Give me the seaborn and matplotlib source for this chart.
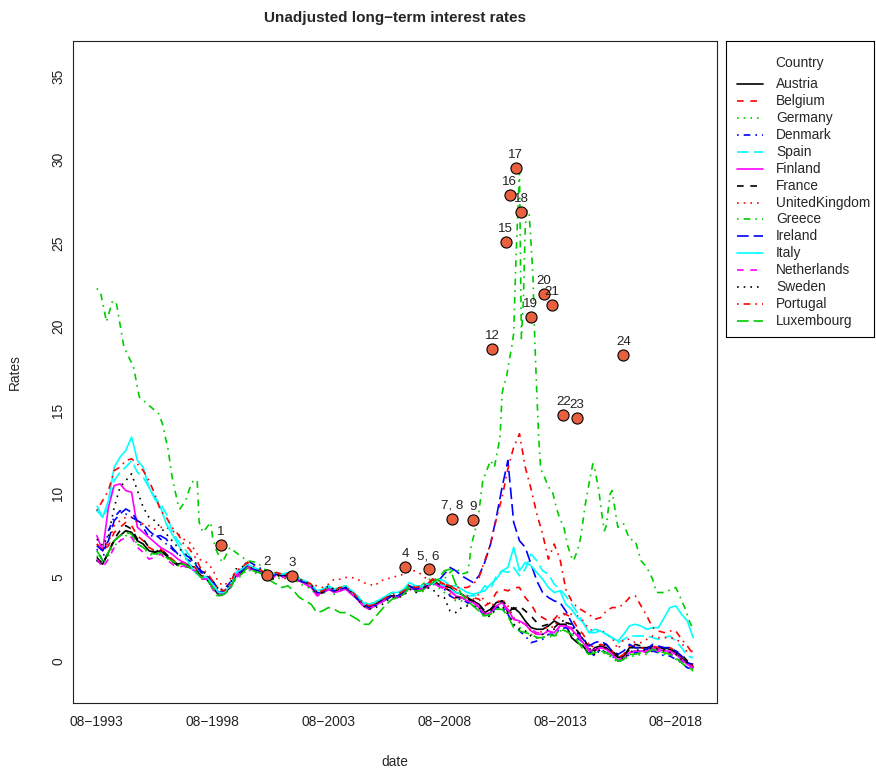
import numpy as np
import pandas as pd
import matplotlib
matplotlib.use("Agg")
import matplotlib.pyplot as plt
import seaborn as sns

sns.set_style("white")
plt.rcParams['font.family'] = ['Liberation Sans', 'DejaVu Sans']

# ---------------- data ----------------
countries = ["Austria", "Belgium", "Germany", "Denmark", "Spain", "Finland",
             "France", "UnitedKingdom", "Greece", "Ireland", "Italy",
             "Netherlands", "Sweden", "Portugal", "Luxembourg"]

# months since 08-1993, quarterly sampling
months_q = list(range(0, 310, 3))

austria = [
    6.0, 5.8, 6.5, 7.2, 7.5, 7.8, 7.7, 7.2,
    7.0, 6.6, 6.5, 6.6, 6.3, 6.0, 5.8, 5.9,
    5.7, 5.6, 5.1, 5.0, 4.4, 4.0, 4.1, 4.4,
    5.1, 5.3, 5.7, 5.5, 5.4, 5.2, 5.0, 5.2,
    5.1, 5.2, 5.2, 4.8, 4.7, 4.5, 4.0, 4.1,
    4.4, 4.2, 4.3, 4.4, 4.1, 3.8, 3.4, 3.2,
    3.4, 3.6, 3.8, 3.9, 3.9, 4.1, 4.5, 4.3,
    4.3, 4.5, 4.9, 4.6, 4.5, 4.4, 4.1, 4.0,
    3.8, 3.6, 3.4, 2.9, 3.1, 3.5, 3.6, 2.9,
    3.2, 2.9, 2.4, 2.0, 1.9, 1.9, 2.1, 2.4,
    2.2, 2.2, 1.4, 1.1, 0.9, 0.4, 0.8, 0.9,
    0.8, 0.5, 0.2, 0.3, 0.8, 0.8, 0.8, 0.8,
    0.8, 0.8, 0.8, 0.7, 0.5, 0.2, -0.1, -0.35]

belgium = [
    7.0, 6.6, 6.9, 7.7, 8.0, 8.3, 8.1, 7.5,
    7.2, 6.8, 6.6, 6.7, 6.4, 6.1, 5.8, 5.9,
    5.7, 5.6, 5.1, 5.0, 4.5, 4.0, 4.1, 4.4,
    5.1, 5.4, 5.7, 5.6, 5.4, 5.3, 5.0, 5.2,
    5.1, 5.2, 5.2, 4.8, 4.7, 4.5, 4.0, 4.1,
    4.3, 4.2, 4.3, 4.4, 4.1, 3.8, 3.4, 3.2,
    3.4, 3.6, 3.8, 3.9, 3.9, 4.1, 4.5, 4.3,
    4.4, 4.6, 4.9, 4.8, 4.6, 4.5, 4.3, 4.0,
    3.8, 3.8, 3.7, 3.3, 3.5, 4.1, 4.3, 4.2,
    4.4, 4.4, 3.8, 3.4, 2.8, 2.6, 2.4, 2.5,
    2.9, 2.8, 2.6, 2.0, 1.6, 1.0, 0.8, 1.0,
    0.9, 0.6, 0.2, 0.4, 0.9, 0.9, 0.8, 0.7,
    0.9, 0.8, 0.8, 0.8, 0.6, 0.3, -0.1, -0.3]

germany = [
    6.3, 5.8, 6.3, 6.9, 7.2, 7.5, 7.5, 7.0,
    6.8, 6.4, 6.3, 6.5, 6.2, 5.9, 5.7, 5.8,
    5.6, 5.5, 5.0, 4.9, 4.3, 3.8, 4.0, 4.3,
    4.9, 5.1, 5.5, 5.3, 5.2, 5.1, 4.8, 5.0,
    4.9, 5.0, 5.0, 4.6, 4.5, 4.3, 3.9, 4.0,
    4.3, 4.0, 4.2, 4.3, 4.0, 3.7, 3.3, 3.1,
    3.3, 3.5, 3.7, 3.8, 3.8, 4.0, 4.4, 4.1,
    4.1, 4.3, 4.6, 4.4, 4.1, 3.9, 3.6, 3.6,
    3.4, 3.3, 3.0, 2.6, 2.7, 3.1, 3.3, 2.9,
    2.2, 2.0, 1.8, 1.6, 1.4, 1.4, 1.5, 1.4,
    1.8, 1.8, 1.6, 1.3, 0.9, 0.5, 0.6, 0.6,
    0.4, 0.2, -0.1, 0.1, 0.3, 0.3, 0.4, 0.4,
    0.6, 0.5, 0.4, 0.4, 0.1, -0.1, -0.4, -0.6]

denmark = [
    6.7, 6.0, 7.8, 8.6, 9.0, 8.8, 8.6, 8.4,
    8.0, 7.4, 7.6, 7.3, 7.0, 6.7, 6.4, 6.2,
    6.0, 5.8, 5.4, 5.2, 4.8, 4.3, 4.3, 4.7,
    5.3, 5.5, 6.0, 5.8, 5.6, 5.4, 5.1, 5.3,
    5.2, 5.2, 5.3, 4.9, 4.7, 4.5, 4.1, 4.2,
    4.4, 4.2, 4.3, 4.4, 4.1, 3.8, 3.4, 3.2,
    3.3, 3.6, 3.8, 3.9, 3.9, 4.1, 4.5, 4.2,
    4.3, 4.4, 4.7, 4.5, 4.3, 3.9, 3.7, 3.7,
    3.5, 3.4, 3.1, 2.7, 2.8, 3.2, 3.2, 2.8,
    2.2, 1.8, 1.5, 1.1, 1.2, 1.3, 1.6, 1.6,
    1.9, 2.0, 1.8, 1.4, 1.1, 0.6, 0.3, 0.7,
    0.5, 0.3, 0.0, 0.1, 0.4, 0.5, 0.6, 0.5,
    0.6, 0.5, 0.3, 0.3, 0.1, -0.1, -0.4, -0.5]

spain = [
    9.3, 8.6, 9.2, 10.8, 11.3, 11.6, 12.0, 11.3,
    11.0, 10.4, 9.8, 9.4, 8.8, 7.8, 7.2, 6.8,
    6.3, 5.8, 5.2, 5.0, 4.6, 4.1, 4.1, 4.5,
    5.2, 5.4, 5.7, 5.5, 5.4, 5.2, 5.0, 5.2,
    5.1, 5.2, 5.2, 4.8, 4.7, 4.5, 4.1, 4.2,
    4.4, 4.2, 4.3, 4.4, 4.1, 3.8, 3.4, 3.2,
    3.3, 3.5, 3.7, 3.9, 3.9, 4.1, 4.5, 4.3,
    4.4, 4.5, 4.8, 4.6, 4.5, 4.3, 4.1, 4.0,
    3.9, 3.9, 4.0, 4.5, 4.3, 5.1, 5.4, 5.3,
    5.6, 5.1, 5.5, 6.4, 6.0, 5.4, 5.2, 4.6,
    4.3, 3.9, 3.4, 2.9, 2.3, 1.7, 1.7, 1.8,
    1.6, 1.4, 1.1, 1.3, 1.5, 1.5, 1.5, 1.5,
    1.4, 1.3, 1.4, 1.5, 1.2, 0.8, 0.3, 0.2]

finland = [
    7.5, 6.6, 9.2, 10.5, 10.6, 10.2, 10.1, 8.0,
    7.7, 7.4, 7.1, 6.8, 6.6, 6.4, 6.1, 5.9,
    5.6, 5.4, 5.0, 4.9, 4.4, 4.0, 4.1, 4.4,
    5.1, 5.4, 5.7, 5.5, 5.4, 5.2, 5.0, 5.2,
    5.1, 5.1, 5.2, 4.8, 4.6, 4.4, 4.0, 4.1,
    4.3, 4.1, 4.2, 4.3, 4.0, 3.7, 3.3, 3.1,
    3.3, 3.5, 3.7, 3.9, 3.8, 4.0, 4.4, 4.3,
    4.3, 4.4, 4.7, 4.5, 4.4, 4.2, 3.9, 3.8,
    3.6, 3.5, 3.2, 2.8, 2.9, 3.3, 3.5, 3.1,
    2.5, 2.4, 2.2, 1.8, 1.6, 1.6, 1.8, 1.7,
    2.1, 2.1, 1.9, 1.5, 1.1, 0.6, 0.7, 0.8,
    0.7, 0.4, 0.0, 0.2, 0.5, 0.6, 0.6, 0.6,
    0.8, 0.7, 0.6, 0.6, 0.4, 0.1, -0.2, -0.4]

france = [
    6.2, 5.8, 6.5, 7.3, 7.8, 8.1, 7.9, 7.3,
    7.3, 6.8, 6.5, 6.7, 6.4, 6.0, 5.7, 5.7,
    5.6, 5.5, 5.0, 4.9, 4.4, 4.0, 4.1, 4.4,
    5.1, 5.3, 5.6, 5.5, 5.4, 5.2, 5.0, 5.2,
    5.1, 5.2, 5.2, 4.8, 4.7, 4.5, 4.0, 4.1,
    4.3, 4.2, 4.3, 4.4, 4.1, 3.8, 3.4, 3.2,
    3.4, 3.6, 3.8, 3.9, 3.9, 4.1, 4.5, 4.3,
    4.3, 4.5, 4.8, 4.6, 4.4, 4.2, 3.8, 3.8,
    3.7, 3.6, 3.4, 3.0, 3.0, 3.4, 3.6, 3.3,
    3.1, 3.3, 3.0, 2.7, 2.3, 2.1, 2.2, 2.0,
    2.3, 2.3, 2.2, 1.8, 1.4, 0.8, 0.6, 0.9,
    1.0, 0.6, 0.3, 0.3, 0.7, 1.0, 0.9, 0.8,
    0.9, 0.9, 0.7, 0.7, 0.6, 0.4, 0.0, -0.2]

united_kingdom = [
    7.0, 6.7, 7.1, 8.1, 8.4, 8.6, 8.6, 8.3,
    8.2, 8.1, 7.9, 8.0, 8.0, 7.8, 7.6, 7.3,
    7.1, 6.6, 6.0, 5.9, 5.5, 4.7, 4.5, 4.9,
    5.3, 5.5, 5.8, 5.4, 5.3, 5.2, 5.0, 5.2,
    5.0, 4.9, 5.0, 4.8, 4.8, 4.6, 4.5, 4.4,
    4.6, 4.9, 4.9, 5.0, 5.0, 4.9, 4.7, 4.6,
    4.5, 4.8, 4.9, 5.0, 5.1, 5.2, 5.4, 5.4,
    5.2, 4.9, 4.6, 4.7, 4.6, 4.0, 3.7, 3.8,
    3.9, 3.7, 4.0, 3.6, 3.3, 3.5, 3.7, 3.3,
    2.6, 2.3, 2.2, 1.8, 1.6, 1.8, 2.1, 2.0,
    2.7, 2.8, 2.8, 2.7, 2.4, 1.9, 1.8, 1.9,
    1.6, 1.4, 0.7, 1.3, 1.3, 1.1, 1.1, 1.3,
    1.5, 1.4, 1.4, 1.4, 1.3, 1.1, 0.5, 0.6]

ireland = [
    6.9, 6.6, 7.2, 8.4, 8.8, 9.1, 8.9, 8.4,
    8.2, 7.8, 7.5, 7.5, 7.3, 6.8, 6.4, 6.4,
    6.2, 5.8, 5.3, 5.1, 4.7, 4.1, 4.2, 4.5,
    5.2, 5.4, 5.7, 5.5, 5.4, 5.2, 5.0, 5.2,
    5.1, 5.1, 5.2, 4.8, 4.7, 4.5, 4.1, 4.1,
    4.3, 4.2, 4.3, 4.4, 4.1, 3.7, 3.4, 3.2,
    3.3, 3.5, 3.7, 3.9, 3.9, 4.1, 4.5, 4.3,
    4.4, 4.6, 4.6, 4.8, 5.2, 5.6, 5.4, 5.1,
    4.9, 4.7, 5.1, 5.9, 7.0, 8.6, 10.4, 12.0,
    8.3, 7.2, 6.8, 5.8, 4.8, 4.1, 3.8, 3.6,
    3.5, 3.0, 2.3, 1.7, 1.3, 0.9, 1.1, 1.2,
    1.0, 0.6, 0.4, 0.6, 1.0, 0.8, 0.8, 0.7,
    1.0, 0.9, 0.8, 0.8, 0.6, 0.3, -0.1, -0.2]

italy = [
    9.0, 8.6, 9.6, 11.6, 12.2, 12.6, 13.4, 12.0,
    11.6, 10.4, 9.7, 9.2, 8.2, 7.6, 7.0, 6.4,
    5.8, 5.3, 5.0, 5.0, 4.6, 4.1, 4.1, 4.5,
    5.3, 5.5, 5.8, 5.6, 5.5, 5.3, 5.1, 5.3,
    5.2, 5.3, 5.3, 4.9, 4.8, 4.6, 4.2, 4.3,
    4.5, 4.3, 4.4, 4.5, 4.2, 3.9, 3.5, 3.4,
    3.5, 3.7, 3.9, 4.1, 4.1, 4.3, 4.7, 4.5,
    4.5, 4.6, 4.6, 4.9, 4.8, 4.5, 4.5, 4.3,
    4.1, 4.0, 4.1, 4.2, 4.6, 4.9, 5.4, 5.6,
    6.8, 5.4, 5.9, 5.7, 5.3, 4.9, 4.4, 4.1,
    4.2, 3.4, 3.1, 2.6, 2.3, 1.7, 1.9, 1.8,
    1.6, 1.4, 1.2, 1.6, 2.1, 2.2, 2.1, 1.9,
    2.0, 2.0, 2.6, 3.2, 3.3, 2.8, 2.4, 1.4]

netherlands = [
    6.1, 5.6, 6.1, 6.8, 7.2, 7.4, 7.4, 6.8,
    6.5, 6.1, 6.2, 6.4, 6.1, 5.8, 5.6, 5.7,
    5.5, 5.4, 4.9, 4.9, 4.3, 3.9, 4.0, 4.4,
    5.0, 5.2, 5.6, 5.4, 5.3, 5.2, 4.9, 5.1,
    5.0, 5.1, 5.1, 4.7, 4.6, 4.4, 3.9, 4.0,
    4.3, 4.1, 4.2, 4.3, 4.0, 3.7, 3.3, 3.1,
    3.3, 3.5, 3.7, 3.8, 3.8, 4.0, 4.4, 4.2,
    4.2, 4.4, 4.7, 4.5, 4.3, 4.2, 3.9, 3.8,
    3.6, 3.5, 3.3, 2.8, 2.9, 3.3, 3.4, 3.0,
    2.5, 2.4, 2.2, 1.9, 1.7, 1.7, 1.8, 1.6,
    2.1, 2.1, 2.0, 1.6, 1.2, 0.7, 0.6, 0.8,
    0.7, 0.4, 0.1, 0.2, 0.5, 0.6, 0.6, 0.5,
    0.7, 0.6, 0.5, 0.5, 0.2, 0.0, -0.3, -0.5]

sweden = [
    7.3, 6.9, 7.5, 9.2, 10.4, 10.8, 11.2, 10.2,
    9.2, 8.6, 8.4, 8.0, 7.6, 7.2, 6.8, 6.5,
    6.2, 5.9, 5.4, 5.2, 4.8, 4.3, 4.2, 4.6,
    5.5, 5.6, 5.9, 5.4, 5.3, 5.1, 4.8, 5.1,
    5.1, 5.1, 5.3, 4.9, 4.7, 4.6, 4.1, 4.2,
    4.5, 4.3, 4.4, 4.4, 4.1, 3.7, 3.3, 3.1,
    3.2, 3.3, 3.6, 3.8, 3.8, 3.9, 4.3, 4.1,
    4.2, 4.4, 4.3, 3.9, 3.8, 3.0, 2.9, 3.2,
    3.3, 3.3, 3.2, 2.7, 2.7, 3.2, 3.3, 2.8,
    2.2, 1.9, 1.8, 1.5, 1.4, 1.6, 1.9, 1.9,
    2.4, 2.4, 2.1, 1.7, 1.3, 0.8, 0.4, 0.7,
    0.8, 0.6, 0.4, 0.1, 0.5, 0.7, 0.6, 0.7,
    0.8, 0.7, 0.6, 0.5, 0.4, 0.1, -0.1, -0.2]

portugal = [
    9.0, 9.6, 10.2, 11.4, 11.6, 12.0, 12.1, 11.8,
    11.4, 10.8, 10.0, 9.0, 8.6, 8.0, 7.6, 7.0,
    6.7, 6.2, 5.5, 5.3, 4.8, 4.3, 4.2, 4.6,
    5.4, 5.6, 5.9, 5.7, 5.5, 5.3, 5.1, 5.3,
    5.2, 5.2, 5.3, 4.9, 4.8, 4.6, 4.1, 4.2,
    4.4, 4.2, 4.4, 4.4, 4.2, 3.8, 3.5, 3.3,
    3.4, 3.6, 3.8, 4.0, 4.0, 4.2, 4.6, 4.4,
    4.5, 4.6, 4.9, 4.7, 4.6, 4.5, 4.4, 4.4,
    4.4, 4.6, 5.0, 6.0, 7.0, 8.5, 9.8, 11.5,
    12.8, 13.6, 11.6, 10.3, 8.8, 7.6, 6.1, 7.0,
    6.1, 4.3, 3.6, 3.2, 3.0, 2.8, 2.5, 2.6,
    3.0, 3.2, 3.2, 3.4, 3.8, 3.9, 3.3, 2.7,
    2.0, 1.8, 1.7, 1.8, 1.8, 1.3, 0.9, 0.4]

luxembourg = [
    6.6, 6.0, 6.5, 7.2, 7.5, 7.7, 7.6, 7.0,
    6.8, 6.5, 6.4, 6.5, 6.2, 6.0, 5.8, 5.8,
    5.6, 5.4, 5.0, 4.9, 4.4, 3.9, 4.0, 4.3,
    5.0, 5.2, 5.6, 5.4, 5.3, 5.1, 4.8, 4.6,
    4.4, 4.5, 4.2, 3.8, 3.6, 3.4, 2.9, 3.0,
    3.2, 3.1, 2.9, 2.9, 2.7, 2.5, 2.2, 2.2,
    2.6, 3.0, 3.4, 3.7, 3.8, 4.0, 4.4, 4.2,
    4.2, 4.4, 4.7, 4.9, 5.4, 5.5, 4.6, 4.0,
    3.6, 3.3, 3.0, 2.7, 2.8, 3.1, 3.1, 2.7,
    2.0, 1.8, 1.7, 1.6, 1.4, 1.4, 1.6, 1.5,
    1.9, 1.8, 1.6, 1.2, 0.7, 0.4, 0.5, 0.6,
    0.5, 0.3, 0.0, 0.1, 0.4, 0.4, 0.5, 0.5,
    0.7, 0.6, 0.5, 0.4, 0.2, -0.1, -0.4, -0.5]

# Greece: own (denser) month sampling
greece_months = [
    0, 2, 5, 8, 10, 14, 19, 22, 27, 32, 34, 37, 39, 42, 43, 46, 48, 50, 52,
    53, 55, 59, 60, 62, 65, 69, 72, 78, 83, 87, 90, 93, 96, 99, 102, 105,
    108, 111, 114, 117, 120, 123, 126, 129, 132, 135, 138, 141, 144, 147,
    150, 153, 156, 159, 162, 165, 168, 171, 174, 177, 180, 183, 186, 189,
    192, 193, 194, 196, 198, 199, 200, 202, 204, 206, 208, 209, 210, 211,
    212, 213, 214, 215, 216, 217, 218, 219, 220, 221, 222, 223, 224, 225,
    226, 227, 228, 229, 230, 232, 234, 236, 238, 240, 242, 244, 246, 247,
    249, 250, 251, 253, 255, 257, 258, 260, 262, 263, 264, 266, 267, 269,
    270, 273, 276, 279, 282, 285, 288, 290, 294, 298, 300, 302, 305, 307, 309]
greece = [
    22.3, 22.0, 20.3, 21.5, 21.5, 18.8, 17.6, 15.8, 15.3, 14.8, 14.2, 12.6,
    11.0, 9.4, 9.1, 9.6, 10.3, 10.8, 10.8,
    8.3, 7.7, 8.3, 7.4, 6.6, 5.9, 6.8, 6.5, 6.0, 5.9, 5.5, 5.2, 5.3, 5.2,
    5.2, 5.3, 4.9,
    4.7, 4.5, 4.1, 4.2, 4.5, 4.3, 4.4, 4.5, 4.2, 3.9, 3.5, 3.4, 3.5, 3.7,
    3.9, 4.1, 4.1, 4.2, 4.6, 4.4, 4.5, 4.8, 5.0, 4.8, 4.9, 5.3, 5.6, 5.2,
    5.3, 5.9, 6.9, 7.8, 8.9, 9.9, 10.8, 11.4, 12.0, 11.6, 12.8, 13.5, 16.0, 16.6,
    16.8, 17.5, 18.2, 18.8, 19.6, 23.4, 26.5, 29.3, 19.3, 21.5, 26.0, 27.0, 26.8, 25.0,
    23.0, 19.0, 16.0, 13.3, 11.5, 11.0, 10.4, 10.2, 9.2, 8.5, 8.0, 6.9, 6.2, 6.0,
    6.6, 7.0, 7.6, 9.3, 10.6, 11.8, 11.5, 10.3, 8.5, 7.8, 8.1, 10.0, 10.2, 8.7,
    8.0, 8.2, 7.3, 7.2, 6.0, 5.6, 4.9, 4.1, 4.1, 4.3, 4.4, 3.9, 3.1, 2.4, 1.9]

# numbered markers
point_labels = ["1", "2", "3", "4", "5, 6", "7, 8", "9", "12", "15", "16",
                "17", "18", "19", "20", "21", "22", "23", "24"]
point_month = [64.3, 88.3, 101.2, 159.9, 171.9, 184.1, 195.0, 204.9, 211.8,
               213.9, 217.0, 219.8, 224.8, 231.7, 236.0, 241.7, 248.6, 272.8]
point_rate = [6.94, 5.15, 5.11, 5.61, 5.50, 8.50, 8.46, 18.67, 25.09, 27.89,
              29.48, 26.88, 20.59, 21.96, 21.28, 14.72, 14.56, 18.30]

# axis tick labels
xtick_months = [0, 30, 60, 90, 120, 150, 180, 210, 240, 270, 300]
xtick_labels = ["08\u22121993", "", "08\u22121998", "", "08\u22122003", "",
                "08\u22122008", "", "08\u22122013", "", "08\u22122018"]
ytick_values = [0, 5, 10, 15, 20, 25, 30, 35]

# ---------------- long table ----------------
series = {
    "Austria": austria, "Belgium": belgium, "Germany": germany,
    "Denmark": denmark, "Spain": spain, "Finland": finland,
    "France": france, "UnitedKingdom": united_kingdom, "Ireland": ireland,
    "Italy": italy, "Netherlands": netherlands, "Sweden": sweden,
    "Portugal": portugal, "Luxembourg": luxembourg,
}
frames = []
for name in countries:
    if name == "Greece":
        frames.append(pd.DataFrame({"month": greece_months, "rate": greece,
                                    "Country": name}))
    else:
        vals = series[name]
        assert len(vals) == len(months_q), name
        frames.append(pd.DataFrame({"month": months_q, "rate": vals,
                                    "Country": name}))
df = pd.concat(frames, ignore_index=True)

# R matplot style cycling: 6 colours, 5 line types
col_cycle = ["#000000", "#FF0000", "#00CD00", "#0000FF", "#00FFFF", "#FF00FF"]
lty_cycle = ["", (4, 4), (1, 3), (1, 3, 4, 3), (7, 3)]
palette = {c: col_cycle[i % 6] for i, c in enumerate(countries)}
dashes = {c: lty_cycle[i % 5] for i, c in enumerate(countries)}

# ---------------- figure ----------------
W, H = 876, 771
FS = 9.9
fig = plt.figure(figsize=(W / 100, H / 100), dpi=100)
L, R, T, B = 73, 717, 41, 703
ax = fig.add_axes([L / W, 1 - B / H, (R - L) / W, (B - T) / H])

LW = 1.2
sns.lineplot(data=df, x="month", y="rate", hue="Country", style="Country",
             hue_order=countries, style_order=countries, palette=palette,
             dashes=dashes, estimator=None, errorbar=None, linewidth=LW,
             legend=False, ax=ax)

sns.scatterplot(x=point_month, y=point_rate, s=64, color="#E8603E",
                edgecolor="black", linewidth=0.8, zorder=5, ax=ax)
for lab, mx, ry in zip(point_labels, point_month, point_rate):
    ax.annotate(lab, (mx, ry), xytext=(0, 13), textcoords="offset pixels",
                ha="center", va="center", fontsize=9.6, color="#222222",
                zorder=6)

ax.set_xlim(-12.36, 321.36)
ax.set_ylim(-2.51, 37.1)
ax.set_xticks(xtick_months)
ax.set_xticklabels(xtick_labels)
ax.set_yticks(ytick_values)
ax.set_yticklabels([str(v) for v in ytick_values], rotation=90, va="center")
ax.tick_params(axis="both", length=5.5, width=0.8, labelsize=FS,
               colors="#222222")
ax.tick_params(axis="x", pad=3)
ax.tick_params(axis="y", pad=0)
ax.set_xlabel("")
ax.set_ylabel("")
for sp in ax.spines.values():
    sp.set_visible(True)
    sp.set_color("#222222")
    sp.set_linewidth(0.8)

fig.text(395 / W, 1 - 18 / H, "Unadjusted long\u2212term interest rates",
         ha="center", va="center", fontsize=11, fontweight="bold")
fig.text(395 / W, 1 - 762 / H, "date", ha="center", va="center", fontsize=FS)
fig.text(15 / W, 1 - 372 / H, "Rates", ha="center", va="center",
         rotation=90, fontsize=FS)

# ---------------- legend box (R style) ----------------
LX0, LY0, LX1, LY1 = 726, 41, 874, 337
lax = fig.add_axes([LX0 / W, 1 - LY1 / H, (LX1 - LX0) / W, (LY1 - LY0) / H])
lax.set_xlim(0, LX1 - LX0)
lax.set_ylim(LY1 - LY0, 0)
lax.set_xticks([])
lax.set_yticks([])
for sp in lax.spines.values():
    sp.set_visible(True)
    sp.set_color("black")
    sp.set_linewidth(0.8)
lax.text(800 - LX0, 63 - LY0, "Country", ha="center", va="center",
         fontsize=FS)
for k, c in enumerate(countries):
    yy = 84 - LY0 + 16.93 * k
    line, = lax.plot([737 - LX0, 763 - LX0], [yy, yy], color=palette[c],
                     lw=LW)
    if dashes[c] != "":
        line.set_dashes(dashes[c])
    lax.text(776 - LX0, yy, c, ha="left", va="center", fontsize=FS)

fig.savefig("out.png", dpi=100)
